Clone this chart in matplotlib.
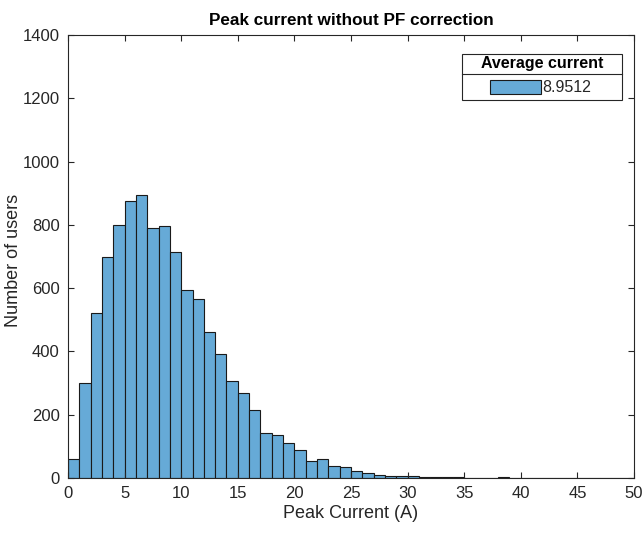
import numpy as np
import matplotlib
matplotlib.use('Agg')
import matplotlib.pyplot as plt
from matplotlib.patches import Rectangle

plt.rcParams['font.family'] = ['Liberation Sans', 'DejaVu Sans']

# histogram data (1 A bins, 0..50)
bin_edges = np.arange(0, 51, 1)
counts = [60, 300, 520, 697, 800, 875, 895, 790, 795, 715,
          593, 565, 460, 392, 307, 270, 215, 143, 136, 112,
          88, 55, 59, 38, 34, 22, 17, 10, 5, 5,
          7, 3, 3, 2, 2, 1, 1, 1, 2, 1,
          1, 1, 0, 1, 0, 1, 0, 0, 1, 0]
legend_title = 'Average current'
avg_current = '8.9512'

bar_color = '#66AAD7'
dark = '#262626'

fig = plt.figure(figsize=(6.42, 5.33), dpi=100)
ax = fig.add_axes([0.1059, 0.1032, 0.8816, 0.8311])

ax.bar(bin_edges[:-1], counts, width=1, align='edge', color=bar_color,
       edgecolor='#1a1a1a', linewidth=0.8)

ax.set_xlim(0, 50)
ax.set_ylim(0, 1400)
ax.set_xticks(np.arange(0, 51, 5))
ax.set_yticks(np.arange(0, 1401, 200))
ax.tick_params(direction='in', top=True, right=True, labelsize=12,
               colors=dark, length=4, width=0.8, pad=6)
for s in ax.spines.values():
    s.set_color(dark)
    s.set_linewidth(0.8)

ax.set_xlabel('Peak Current (A)', fontsize=13, color=dark, labelpad=3)
ax.set_ylabel('Number of users', fontsize=13, color=dark)
ax.yaxis.set_label_coords(-0.082, 0.49)
ax.set_title('Peak current without PF correction', fontsize=12.3,
             fontweight='bold', pad=7)

# legend box drawn MATLAB-style (title row + separator + entry)
tr = ax.transAxes
ax.add_patch(Rectangle((0.696, 0.853), 0.283, 0.104, transform=tr,
                       facecolor='white', edgecolor=dark, linewidth=0.8,
                       zorder=5))
ax.plot([0.696, 0.979], [0.912, 0.912], transform=tr, color=dark,
        linewidth=0.8, zorder=6)
ax.text(0.8375, 0.936, legend_title, transform=tr, ha='center', va='center',
        fontsize=11.5, fontweight='bold', color='black', zorder=6)
ax.add_patch(Rectangle((0.7456, 0.867), 0.0901, 0.031, transform=tr,
                       facecolor=bar_color, edgecolor='#1a1a1a',
                       linewidth=0.8, zorder=6))
ax.text(0.8375, 0.882, avg_current, transform=tr, ha='left', va='center',
        fontsize=11.5, color=dark, zorder=6)

fig.savefig('out.png', dpi=100)
